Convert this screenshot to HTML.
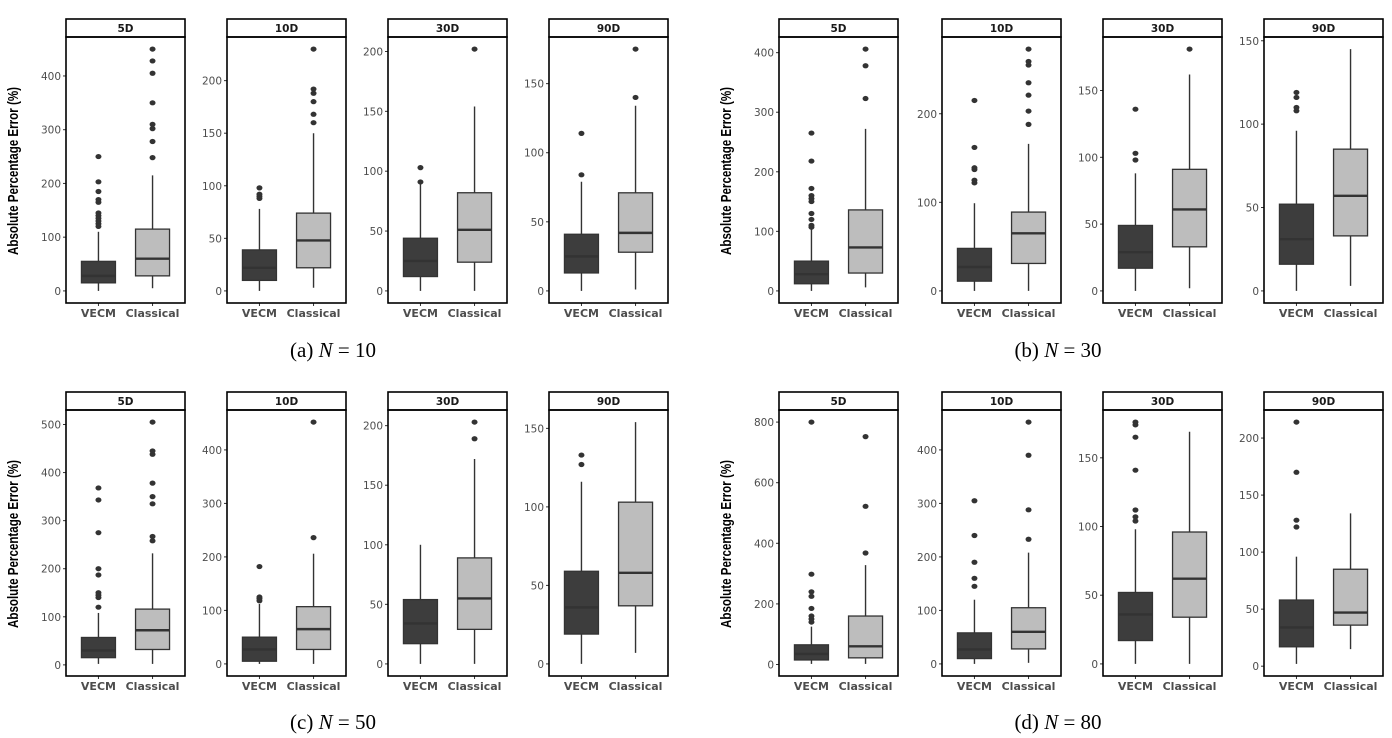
<!DOCTYPE html>
<html><head><meta charset="utf-8">
<style>
html,body{margin:0;padding:0;background:#fff;}
svg{display:block;}
.cap{font-family:"Liberation Serif",serif;font-size:21px;fill:#000;}
</style></head>
<body>
<svg id="chart" width="1392" height="738" viewBox="0 0 1392 738" xmlns="http://www.w3.org/2000/svg">
<text class="cap" x="333" y="357" text-anchor="middle">(a) <tspan font-style="italic">N</tspan> = 10</text>
<text class="cap" x="1058" y="357" text-anchor="middle">(b) <tspan font-style="italic">N</tspan> = 30</text>
<text class="cap" x="333" y="729" text-anchor="middle">(c) <tspan font-style="italic">N</tspan> = 50</text>
<text class="cap" x="1058" y="729" text-anchor="middle">(d) <tspan font-style="italic">N</tspan> = 80</text>
</svg>
<script>
// categories
const groups = ["VECM", "Classical"];
const horizons = ["5D", "10D", "30D", "90D"];
const figures = ["a", "b", "c", "d"];
// box stats per panel: [whiskerLow, q1, median, q3, whiskerHigh]
const vecmStats = [
  [0,15,28,55,110],[0,10,22,39,78],[0,12,25,44,89],[0,13,25,41,79],
  [0,12,28,50,105],[0,11,27,48,99],[0,17,29,49,88],[0,16,31,52,96],
  [2,15,30,57,108],[0,5,27,50,112],[0,17,34,54,100],[0,19,36,59,116],
  [2,15,35,65,125],[0,10,27,58,120],[0,17,36,52,98],[2,17,34,58,96]
];
const classicalStats = [
  [5,28,60,115,215],[3,22,48,74,150],[0,24,51,82,154],[1,28,42,71,134],
  [6,30,73,136,272],[0,31,65,89,166],[2,33,61,91,162],[3,33,57,85,145],
  [2,32,72,116,232],[0,27,65,107,206],[0,29,55,89,172],[7,37,58,103,154],
  [2,22,60,160,328],[2,28,60,105,208],[0,34,62,96,169],[15,36,47,85,134]
];
const vecmOutliers = [
  [120,125,130,135,140,145,165,170,185,203,250],[88,90,92,98],[91,103],[84,114],
  [107,110,120,130,150,155,160,172,218,265],[122,125,137,139,162,215],[98,103,136],[108,110,116,119],
  [120,140,145,150,187,200,275,343,368],[118,122,125,182],[],[127,133],
  [140,150,160,185,225,240,298,800],[145,160,190,240,305],[104,107,112,141,165,174,176],[122,128,170,214]
];
const classicalOutliers = [
  [248,278,302,310,350,405,428,450],[160,168,180,188,192,230],[202],[140,175],
  [323,378,406],[188,203,221,235,255,259,273],[181],[],
  [258,267,335,350,378,438,445,505],[236,452],[189,203],[],
  [368,522,752],[233,288,390,452],[],[]
];
const tickSteps = [100,50,50,50, 100,100,50,50, 100,100,50,50, 200,100,50,50];

const NS = "http://www.w3.org/2000/svg";
const svg = document.getElementById("chart");
function mk(tag, attrs, parent){
  const e = document.createElementNS(NS, tag);
  for (const k in attrs) e.setAttribute(k, attrs[k]);
  (parent||svg).appendChild(e);
  return e;
}
const colLeft = [[66,227,388,549],[779,942,1103,1264]];
const rowTop = [19, 392];
const PW = 119, STRIP = 18, PH = 266;
const fills = ["#3d3d3d", "#bdbdbd"];
const FONT = "DejaVu Sans, Liberation Sans, sans-serif";

for (let p = 0; p < 16; p++) {
  const fig = Math.floor(p/4), h = p % 4;
  const row = Math.floor(fig/2), col = fig % 2;
  const x0 = colLeft[col][h], top = rowTop[row];
  const py0 = top + STRIP, py1 = py0 + PH;
  const stats = [vecmStats[p], classicalStats[p]];
  const outs = [vecmOutliers[p], classicalOutliers[p]];
  let lo = Infinity, hi = -Infinity;
  for (let g = 0; g < 2; g++) {
    lo = Math.min(lo, stats[g][0], ...outs[g]);
    hi = Math.max(hi, stats[g][4], ...outs[g]);
  }
  const pad = (hi - lo) * 0.05;
  const dLo = lo - pad, dHi = hi + pad;
  const y = v => py1 - (v - dLo) / (dHi - dLo) * PH;
  const x = i => x0 + (0.6 + i) / 2.2 * PW;

  const gp = mk("g", {});
  
  

  const st = mk("rect", {x:x0, y:top, width:PW, height:STRIP, fill:"#fff", stroke:"#000", "stroke-width":1.6}, gp);
  
  
  const stt = mk("text", {x:x0+PW/2, y:top+13, "text-anchor":"middle", "font-family":FONT, "font-size":"10.5", "font-weight":"bold", fill:"#1a1a1a"}, gp);
  stt.textContent = horizons[h];
  
  

  const step = tickSteps[p];
  for (let t = 0; t <= dHi; t += step) {
    if (t < dLo) continue;
    const ty = y(t);
    const tl = mk("line", {x1:x0-3, x2:x0, y1:ty, y2:ty, stroke:"#333", "stroke-width":1}, gp);
    
    
    const tt = mk("text", {x:x0-5, y:ty+4, "text-anchor":"end", "font-family":FONT, "font-size":"10.5", fill:"#4d4d4d"}, gp);
    tt.textContent = t;
    
    
  }

  const bw = 34;
  for (let g = 0; g < 2; g++) {
    const s = stats[g], cx = x(g);
    const wl = mk("line", {x1:cx, x2:cx, y1:y(s[0]), y2:y(s[4]), stroke:"#333", "stroke-width":1.4}, gp);
    
    
    const bx = mk("rect", {x:cx-bw/2, y:y(s[3]), width:bw, height:y(s[1])-y(s[3]), fill:fills[g], stroke:"#333", "stroke-width":1.3}, gp);
    
    
    const md = mk("line", {x1:cx-bw/2, x2:cx+bw/2, y1:y(s[2]), y2:y(s[2]), stroke:"#333", "stroke-width":2.4}, gp);
    
    
    for (const o of outs[g]) {
      const c = mk("ellipse", {cx:cx, cy:y(o), rx:3, ry:2.6, fill:"#333"}, gp);
      
      
    }
    const xt = mk("line", {x1:cx, x2:cx, y1:py1, y2:py1+3, stroke:"#333", "stroke-width":1}, gp);
    
    
    const xl = mk("text", {x:cx, y:py1+14, "text-anchor":"middle", "font-family":FONT, "font-size":"11", "font-weight":"bold", fill:"#4d4d4d"}, gp);
    xl.textContent = groups[g];
    
    
  }

  const pb = mk("rect", {x:x0, y:py0, width:PW, height:PH, fill:"none", stroke:"#000", "stroke-width":1.6}, gp);
  
  

  if (h === 0) {
    const cy = (py0 + py1) / 2 + 1;
    const at = mk("text", {x:0, y:0, transform:"translate(" + (x0-48) + "," + cy + ") rotate(-90)", "text-anchor":"middle", "font-family":"Liberation Sans Narrow, Liberation Sans, sans-serif", "font-size":"15", "font-weight":"bold", fill:"#000", textLength:"168", lengthAdjust:"spacingAndGlyphs"}, gp);
    at.textContent = "Absolute Percentage Error (%)";
    
    
  }
}
</script>
</body></html>
